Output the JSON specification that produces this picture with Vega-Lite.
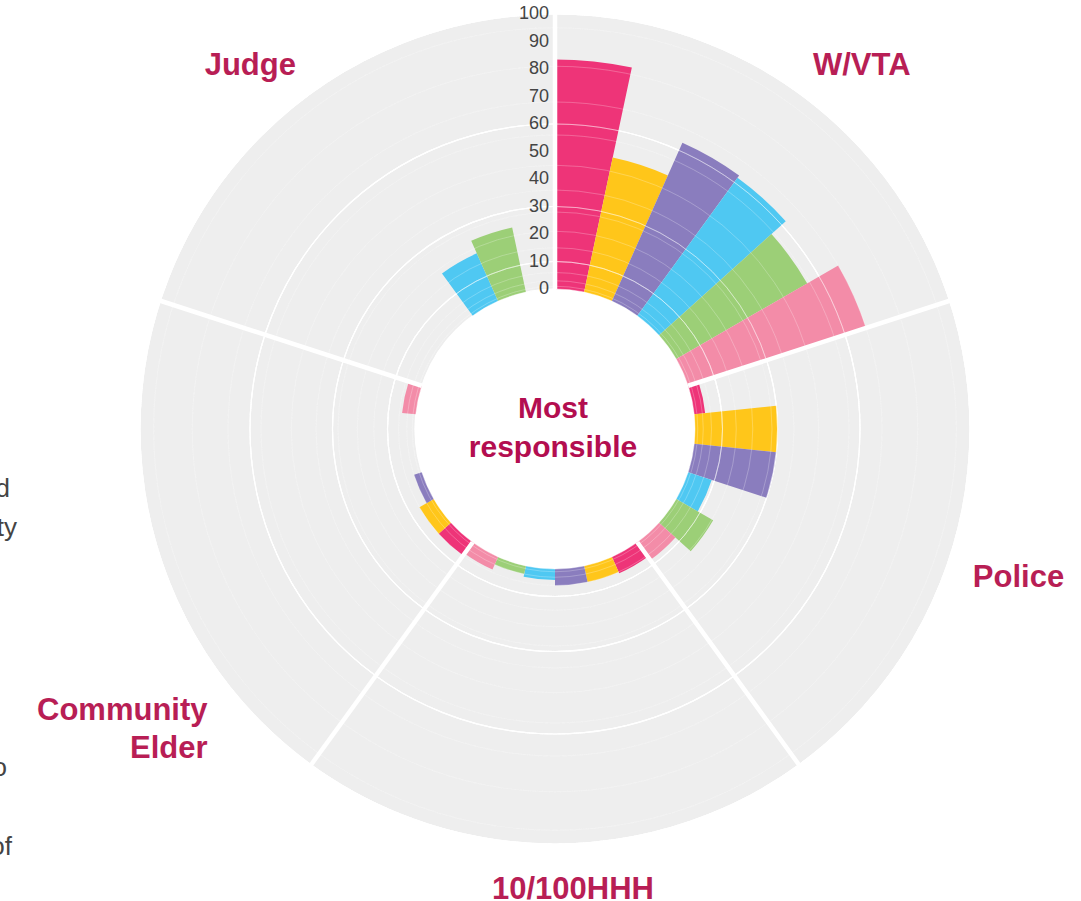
{
  "$schema": "https://vega.github.io/schema/vega-lite/v6.json",
  "autosize": {"type": "none"},
  "width": 1052,
  "height": 858,
  "padding": {"left": 29, "top": 0, "right": 0, "bottom": 43},
  "background": "white",
  "config": {"view": {"stroke": null}, "font": "Liberation Sans"},
  "datasets": {
    "bars": [
      {"who": "W/VTA", "series": "s1", "value": 83.5},
      {"who": "W/VTA", "series": "s2", "value": 50},
      {"who": "W/VTA", "series": "s3", "value": 63},
      {"who": "W/VTA", "series": "s4", "value": 62},
      {"who": "W/VTA", "series": "s5", "value": 55},
      {"who": "W/VTA", "series": "s6", "value": 68},
      {"who": "Police", "series": "s1", "value": 4},
      {"who": "Police", "series": "s2", "value": 30},
      {"who": "Police", "series": "s3", "value": 30},
      {"who": "Police", "series": "s4", "value": 9},
      {"who": "Police", "series": "s5", "value": 15.5},
      {"who": "Police", "series": "s6", "value": 8},
      {"who": "10/100HHH", "series": "s1", "value": 6.5},
      {"who": "10/100HHH", "series": "s2", "value": 6},
      {"who": "10/100HHH", "series": "s3", "value": 6},
      {"who": "10/100HHH", "series": "s4", "value": 4},
      {"who": "10/100HHH", "series": "s5", "value": 3},
      {"who": "10/100HHH", "series": "s6", "value": 5},
      {"who": "Community Elder", "series": "s1", "value": 6},
      {"who": "Community Elder", "series": "s2", "value": 6},
      {"who": "Community Elder", "series": "s3", "value": 3},
      {"who": "Community Elder", "series": "s4", "value": 0},
      {"who": "Community Elder", "series": "s5", "value": 0},
      {"who": "Community Elder", "series": "s6", "value": 5},
      {"who": "Judge", "series": "s1", "value": 0},
      {"who": "Judge", "series": "s2", "value": 0},
      {"who": "Judge", "series": "s3", "value": 0},
      {"who": "Judge", "series": "s4", "value": 19},
      {"who": "Judge", "series": "s5", "value": 24},
      {"who": "Judge", "series": "s6", "value": 0}
    ],
    "ticks": [
      {"tick": 0}, {"tick": 10}, {"tick": 20}, {"tick": 30}, {"tick": 40}, {"tick": 50},
      {"tick": 60}, {"tick": 70}, {"tick": 80}, {"tick": 90}, {"tick": 100}
    ],
    "rings": [
      {"ring": 10}, {"ring": 20}, {"ring": 30}, {"ring": 40}, {"ring": 50},
      {"ring": 60}, {"ring": 70}, {"ring": 80}, {"ring": 90}
    ],
    "fine": [
      {"ring": 1}, {"ring": 2}, {"ring": 3}, {"ring": 4}, {"ring": 5}, {"ring": 6}, {"ring": 7}, {"ring": 8}, {"ring": 9},
      {"ring": 11}, {"ring": 12}, {"ring": 13}, {"ring": 14}, {"ring": 15}, {"ring": 16}, {"ring": 17}, {"ring": 18}, {"ring": 19},
      {"ring": 21}, {"ring": 22}, {"ring": 23}, {"ring": 24}, {"ring": 25}, {"ring": 26}, {"ring": 27}, {"ring": 28}, {"ring": 29},
      {"ring": 31}, {"ring": 32}, {"ring": 33}, {"ring": 34}, {"ring": 35}, {"ring": 36}, {"ring": 37}, {"ring": 38}, {"ring": 39},
      {"ring": 41}, {"ring": 42}, {"ring": 43}, {"ring": 44}, {"ring": 45}, {"ring": 46}, {"ring": 47}, {"ring": 48}, {"ring": 49},
      {"ring": 51}, {"ring": 52}, {"ring": 53}, {"ring": 54}, {"ring": 55}, {"ring": 56}, {"ring": 57}, {"ring": 58}, {"ring": 59},
      {"ring": 61}, {"ring": 62}, {"ring": 63}, {"ring": 64}, {"ring": 65}, {"ring": 66}, {"ring": 67}, {"ring": 68}, {"ring": 69},
      {"ring": 71}, {"ring": 72}, {"ring": 73}, {"ring": 74}, {"ring": 75}, {"ring": 76}, {"ring": 77}, {"ring": 78}, {"ring": 79},
      {"ring": 81}, {"ring": 82}, {"ring": 83}, {"ring": 84}, {"ring": 85}, {"ring": 86}, {"ring": 87}, {"ring": 88}, {"ring": 89},
      {"ring": 91}, {"ring": 92}, {"ring": 93}, {"ring": 94}, {"ring": 95}, {"ring": 96}, {"ring": 97}, {"ring": 98}, {"ring": 99}
    ],
    "center": [{"title": "Most responsible"}]
  },
  "layer": [
    {
      "data": {"name": "center"},
      "mark": {"type": "arc", "fill": "#EEEEEE"},
      "encoding": {
        "theta": {"datum": 0, "type": "quantitative", "scale": {"domain": [0, 30], "range": [0, 6.283185307179586], "nice": false}},
        "theta2": {"datum": 30},
        "radius": {"datum": 100, "type": "quantitative", "scale": {"type": "linear", "domain": [0, 100], "range": [140, 415], "nice": false}},
        "radius2": {"datum": 0}
      }
    },
    {
      "data": {"name": "rings"},
      "mark": {"type": "arc", "fillOpacity": 0, "stroke": "white", "strokeWidth": 1.2},
      "encoding": {
        "theta": {"datum": 0, "type": "quantitative", "scale": {"domain": [0, 30], "range": [0, 6.283185307179586], "nice": false}},
        "theta2": {"datum": 30},
        "radius": {"field": "ring", "type": "quantitative", "scale": {"type": "linear", "domain": [0, 100], "range": [140, 415], "nice": false}}
      }
    },
    {
      "data": {"name": "bars"},
      "transform": [
        {"window": [{"op": "count", "as": "t1"}], "frame": [null, 0]},
        {"window": [{"op": "count", "as": "t0"}], "frame": [null, -1]}
      ],
      "mark": {"type": "arc"},
      "encoding": {
        "theta": {"field": "t0", "type": "quantitative", "stack": null, "scale": {"domain": [0, 30], "range": [0, 6.283185307179586], "nice": false}},
        "theta2": {"field": "t1"},
        "radius": {"field": "value", "type": "quantitative", "stack": null, "scale": {"type": "linear", "domain": [0, 100], "range": [140, 415], "nice": false}},
        "radius2": {"datum": 0},
        "color": {
          "field": "series", "type": "nominal", "legend": null,
          "scale": {"domain": ["s1", "s2", "s3", "s4", "s5", "s6"], "range": ["#EE3478", "#FFC61A", "#8A7DBE", "#4FC8F2", "#9CCF77", "#F38CA8"]}
        }
      }
    },
    {
      "data": {"name": "fine"},
      "mark": {"type": "arc", "fillOpacity": 0, "stroke": "white", "strokeWidth": 0.6, "strokeOpacity": 0.22},
      "encoding": {
        "theta": {"datum": 0, "type": "quantitative", "scale": {"domain": [0, 30], "range": [0, 6.283185307179586], "nice": false}},
        "theta2": {"datum": 30},
        "radius": {"field": "ring", "type": "quantitative", "scale": {"type": "linear", "domain": [0, 100], "range": [140, 415], "nice": false}}
      }
    },
    {
      "data": {"name": "rings"},
      "mark": {"type": "arc", "fillOpacity": 0, "stroke": "white", "strokeWidth": 1, "strokeOpacity": 0.35},
      "encoding": {
        "theta": {"datum": 0, "type": "quantitative", "scale": {"domain": [0, 30], "range": [0, 6.283185307179586], "nice": false}},
        "theta2": {"datum": 30},
        "radius": {"field": "ring", "type": "quantitative", "scale": {"type": "linear", "domain": [0, 100], "range": [140, 415], "nice": false}}
      }
    },
    {
      "data": {"name": "bars"},
      "transform": [
        {"window": [{"op": "count", "as": "t1"}], "frame": [null, 0]},
        {"window": [{"op": "count", "as": "t0"}], "frame": [null, -1]},
        {"filter": "datum.series === 's1'"}
      ],
      "mark": {"type": "arc", "fillOpacity": 0, "stroke": "white", "strokeWidth": 4.5},
      "encoding": {
        "theta": {"field": "t0", "type": "quantitative", "stack": null, "scale": {"domain": [0, 30], "range": [0, 6.283185307179586], "nice": false}},
        "theta2": {"field": "t0"},
        "radius": {"datum": 100, "type": "quantitative", "scale": {"type": "linear", "domain": [0, 100], "range": [140, 415], "nice": false}},
        "radius2": {"datum": 0}
      }
    },
    {
      "data": {"name": "ticks"},
      "mark": {"type": "text", "align": "right", "baseline": "middle", "dx": -6, "fontSize": 18, "color": "#444444"},
      "encoding": {
        "theta": {"datum": 0, "type": "quantitative", "scale": {"domain": [0, 30], "range": [0, 6.283185307179586], "nice": false}},
        "radius": {"field": "tick", "type": "quantitative", "scale": {"type": "linear", "domain": [0, 100], "range": [140, 415], "nice": false}},
        "text": {"field": "tick", "type": "quantitative"}
      }
    },
    {
      "data": {"name": "bars"},
      "transform": [
        {"window": [{"op": "count", "as": "t0"}], "frame": [null, -1]},
        {"filter": "datum.series === 's4' && datum.who === 'W/VTA'"}
      ],
      "mark": {"type": "text", "align": "center", "baseline": "alphabetic", "fontSize": 31, "fontWeight": "bold", "color": "#B81E55", "dx": 24, "dy": 35},
      "encoding": {
        "theta": {"field": "t0", "type": "quantitative", "stack": null, "scale": {"domain": [0, 30], "range": [0, 6.283185307179586], "nice": false}},
        "radius": {"datum": 124, "type": "quantitative", "scale": {"type": "linear", "domain": [0, 100], "range": [140, 415], "nice": false}},
        "text": {"field": "who"}
      }
    },
    {
      "data": {"name": "bars"},
      "transform": [
        {"window": [{"op": "count", "as": "t0"}], "frame": [null, -1]},
        {"filter": "datum.series === 's4' && datum.who === 'Police'"}
      ],
      "mark": {"type": "text", "align": "center", "baseline": "alphabetic", "fontSize": 31, "fontWeight": "bold", "color": "#B81E55", "dx": 6, "dy": 9},
      "encoding": {
        "theta": {"field": "t0", "type": "quantitative", "stack": null, "scale": {"domain": [0, 30], "range": [0, 6.283185307179586], "nice": false}},
        "radius": {"datum": 124, "type": "quantitative", "scale": {"type": "linear", "domain": [0, 100], "range": [140, 415], "nice": false}},
        "text": {"field": "who"}
      }
    },
    {
      "data": {"name": "bars"},
      "transform": [
        {"window": [{"op": "count", "as": "t0"}], "frame": [null, -1]},
        {"filter": "datum.series === 's4' && datum.who === '10/100HHH'"}
      ],
      "mark": {"type": "text", "align": "center", "baseline": "alphabetic", "fontSize": 31, "fontWeight": "bold", "color": "#B81E55", "dx": 18, "dy": -11},
      "encoding": {
        "theta": {"field": "t0", "type": "quantitative", "stack": null, "scale": {"domain": [0, 30], "range": [0, 6.283185307179586], "nice": false}},
        "radius": {"datum": 124, "type": "quantitative", "scale": {"type": "linear", "domain": [0, 100], "range": [140, 415], "nice": false}},
        "text": {"field": "who"}
      }
    },
    {
      "data": {"name": "bars"},
      "transform": [
        {"window": [{"op": "count", "as": "t0"}], "frame": [null, -1]},
        {"filter": "datum.series === 's4' && datum.who === 'Community Elder'"}
      ],
      "mark": {"type": "text", "align": "right", "baseline": "alphabetic", "fontSize": 31, "fontWeight": "bold", "color": "#B81E55", "dx": 110, "dy": 142, "lineBreak": " ", "lineHeight": 38},
      "encoding": {
        "theta": {"field": "t0", "type": "quantitative", "stack": null, "scale": {"domain": [0, 30], "range": [0, 6.283185307179586], "nice": false}},
        "radius": {"datum": 124, "type": "quantitative", "scale": {"type": "linear", "domain": [0, 100], "range": [140, 415], "nice": false}},
        "text": {"field": "who"}
      }
    },
    {
      "data": {"name": "bars"},
      "transform": [
        {"window": [{"op": "count", "as": "t0"}], "frame": [null, -1]},
        {"filter": "datum.series === 's4' && datum.who === 'Judge'"}
      ],
      "mark": {"type": "text", "align": "center", "baseline": "alphabetic", "fontSize": 31, "fontWeight": "bold", "color": "#B81E55", "dx": -22, "dy": 35},
      "encoding": {
        "theta": {"field": "t0", "type": "quantitative", "stack": null, "scale": {"domain": [0, 30], "range": [0, 6.283185307179586], "nice": false}},
        "radius": {"datum": 124, "type": "quantitative", "scale": {"type": "linear", "domain": [0, 100], "range": [140, 415], "nice": false}},
        "text": {"field": "who"}
      }
    },
    {
      "data": {"name": "center"},
      "mark": {"type": "text", "align": "center", "baseline": "alphabetic", "fontSize": 30, "fontWeight": "bold", "color": "#B30E50", "dx": -2, "dy": -11, "lineBreak": " ", "lineHeight": 39},
      "encoding": {"text": {"field": "title"}}
    },
    {
      "data": {"name": "center"},
      "mark": {"type": "text", "text": "d", "align": "right", "baseline": "alphabetic", "fontSize": 26, "color": "#444444", "dx": -545, "dy": 68},
      "encoding": {}
    },
    {
      "data": {"name": "center"},
      "mark": {"type": "text", "text": "ty", "align": "right", "baseline": "alphabetic", "fontSize": 26, "color": "#444444", "dx": -538, "dy": 107},
      "encoding": {}
    },
    {
      "data": {"name": "center"},
      "mark": {"type": "text", "text": "o", "align": "right", "baseline": "alphabetic", "fontSize": 26, "color": "#444444", "dx": -548, "dy": 347},
      "encoding": {}
    },
    {
      "data": {"name": "center"},
      "mark": {"type": "text", "text": "of", "align": "right", "baseline": "alphabetic", "fontSize": 26, "color": "#444444", "dx": -543, "dy": 426},
      "encoding": {}
    }
  ]
}
